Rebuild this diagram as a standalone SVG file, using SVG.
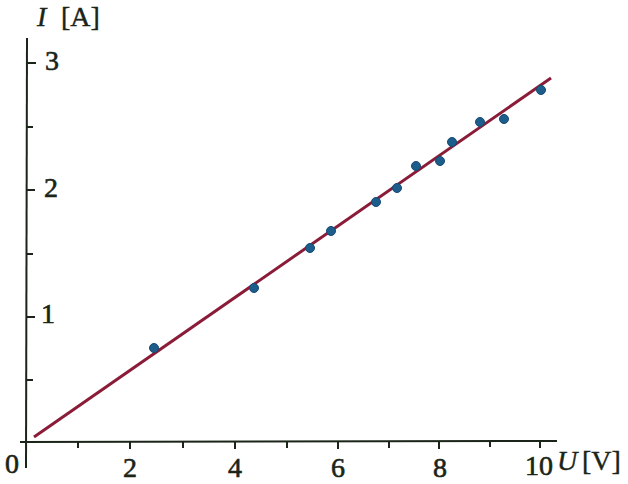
<svg xmlns="http://www.w3.org/2000/svg" width="628" height="484" viewBox="0 0 628 484">
<style>
.ax{stroke:#1a2418;stroke-width:2;fill:none}
.tk{stroke:#1a2418;stroke-width:2}
.num{font-family:"Liberation Serif","DejaVu Serif",serif;font-size:28px;fill:#1a2418;stroke:#1a2418;stroke-width:0.6;text-anchor:middle}
.lab{font-family:"Liberation Serif","DejaVu Serif",serif;font-size:28px;fill:#1a2418;stroke:#1a2418;stroke-width:0.4}
.pt{fill:#1d5d8c;stroke:#164a72;stroke-width:1}
.fit{stroke:#8a1c38;stroke-width:3;fill:none}
</style>
<rect width="628" height="484" fill="#ffffff"/>
<g id="axes">
<line class="ax" x1="27" y1="38" x2="26" y2="468"/>
<line class="ax" x1="20" y1="442" x2="557" y2="441"/>
</g>
<g id="x-ticks">
<line class="tk" x1="78" y1="442" x2="78" y2="448"/>
<line class="tk" x1="130" y1="442" x2="130" y2="449"/>
<line class="tk" x1="183" y1="442" x2="183" y2="448"/>
<line class="tk" x1="235" y1="442" x2="235" y2="449"/>
<line class="tk" x1="287" y1="442" x2="287" y2="448"/>
<line class="tk" x1="338" y1="442" x2="338" y2="449"/>
<line class="tk" x1="389" y1="442" x2="389" y2="448"/>
<line class="tk" x1="439" y1="442" x2="439" y2="449"/>
<line class="tk" x1="490" y1="441" x2="490" y2="447"/>
<line class="tk" x1="540" y1="441" x2="540" y2="448"/>
</g>
<g id="y-ticks">
<line class="tk" x1="27" y1="63" x2="36" y2="63"/>
<line class="tk" x1="27" y1="127" x2="33" y2="127"/>
<line class="tk" x1="27" y1="190" x2="35" y2="190"/>
<line class="tk" x1="27" y1="254" x2="33" y2="254"/>
<line class="tk" x1="27" y1="317" x2="35" y2="317"/>
<line class="tk" x1="27" y1="380" x2="33" y2="380"/>
</g>
<g id="x-labels">
<text class="num" x="12" y="473">0</text>
<text class="num" x="130" y="477">2</text>
<text class="num" x="235" y="477">4</text>
<text class="num" x="338" y="477">6</text>
<text class="num" x="440" y="477">8</text>
<text class="num" x="539" y="475">10</text>
</g>
<g id="y-labels">
<text class="num" x="52" y="70">3</text>
<text class="num" x="51" y="197">2</text>
<text class="num" x="48" y="323">1</text>
</g>
<g id="axis-titles">
<text class="lab" x="37" y="26"><tspan font-style="italic">I</tspan><tspan x="61">[A]</tspan></text>
<text class="lab" x="557" y="470"><tspan font-style="italic">U</tspan><tspan x="582">[V]</tspan></text>
</g>
<g id="connectors">
<line class="fit" x1="34" y1="437" x2="551" y2="78"/>
</g>
<g id="points">
<circle class="pt" cx="154" cy="348" r="4.5"/>
<circle class="pt" cx="254" cy="288" r="4.5"/>
<circle class="pt" cx="310" cy="248" r="4.5"/>
<circle class="pt" cx="331" cy="231" r="4.5"/>
<circle class="pt" cx="376" cy="202" r="4.5"/>
<circle class="pt" cx="397" cy="188" r="4.5"/>
<circle class="pt" cx="416" cy="166" r="4.5"/>
<circle class="pt" cx="440" cy="161" r="4.5"/>
<circle class="pt" cx="452" cy="142" r="4.5"/>
<circle class="pt" cx="480" cy="122" r="4.5"/>
<circle class="pt" cx="504" cy="119" r="4.5"/>
<circle class="pt" cx="541" cy="90" r="4.5"/>
</g>
</svg>
